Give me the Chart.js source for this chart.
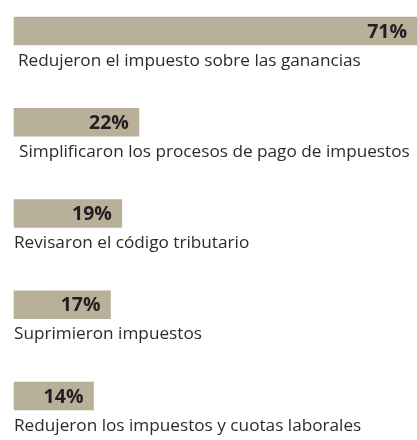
<!DOCTYPE html>
<html>
<head>
<meta charset="utf-8">
<script src="https://cdn.jsdelivr.net/npm/chart.js@4"></script>
<style>
  html, body { margin: 0; padding: 0; background: #ffffff; }
  #wrap { width: 417px; height: 440px; }
</style>
</head>
<body>
<div id="wrap"><canvas id="chart" width="417" height="440"></canvas></div>
<script>
// Share of economies applying each type of tax reform
const categories = [
  'Redujeron el impuesto sobre las ganancias',
  'Simplificaron los procesos de pago de impuestos',
  'Revisaron el código tributario',
  'Suprimieron impuestos',
  'Redujeron los impuestos y cuotas laborales'
];
const shares = [71, 22, 19, 17, 14];
const valueLabels = ['71%', '22%', '19%', '17%', '14%'];

// Small horizontal nudges for the caption under each bar (px)
const captionIndent = [4, 5, 0, 0, 0];

const barCaptions = {
  id: 'barCaptions',
  afterDatasetsDraw(chart) {
    const { ctx } = chart;
    const meta = chart.getDatasetMeta(0);
    ctx.save();
    meta.data.forEach((bar, i) => {
      const left = bar.base;
      // value at the end of the bar
      ctx.font = 'bold 19.5px "Open Sans"';
      ctx.fillStyle = '#231f20';
      ctx.textAlign = 'right';
      ctx.textBaseline = 'alphabetic';
      ctx.fillText(valueLabels[i], Math.min(bar.x, chart.width) - 10, bar.y + 6.5);
      // caption below the bar
      ctx.font = '17.2px "Open Sans"';
      ctx.fillStyle = '#2b2b2b';
      ctx.textAlign = 'left';
      ctx.fillText(categories[i], left + captionIndent[i], bar.y + 34.5);
    });
    ctx.restore();
  }
};

new Chart(document.getElementById('chart'), {
  type: 'bar',
  data: {
    labels: categories,
    datasets: [{
      data: shares,
      backgroundColor: '#b9b09a',
      borderWidth: 0,
      barThickness: 28,
      clip: false
    }]
  },
  options: {
    indexAxis: 'y',
    responsive: false,
    animation: false,
    events: [],
    layout: { padding: { left: 14, right: 0, top: 31, bottom: 44 } },
    scales: {
      x: { display: false, min: 0, max: 71 },
      y: { display: false, offset: false }
    },
    plugins: {
      legend: { display: false },
      tooltip: { enabled: false },
      title: { display: false }
    }
  },
  plugins: [barCaptions]
});
</script>
</body>
</html>
